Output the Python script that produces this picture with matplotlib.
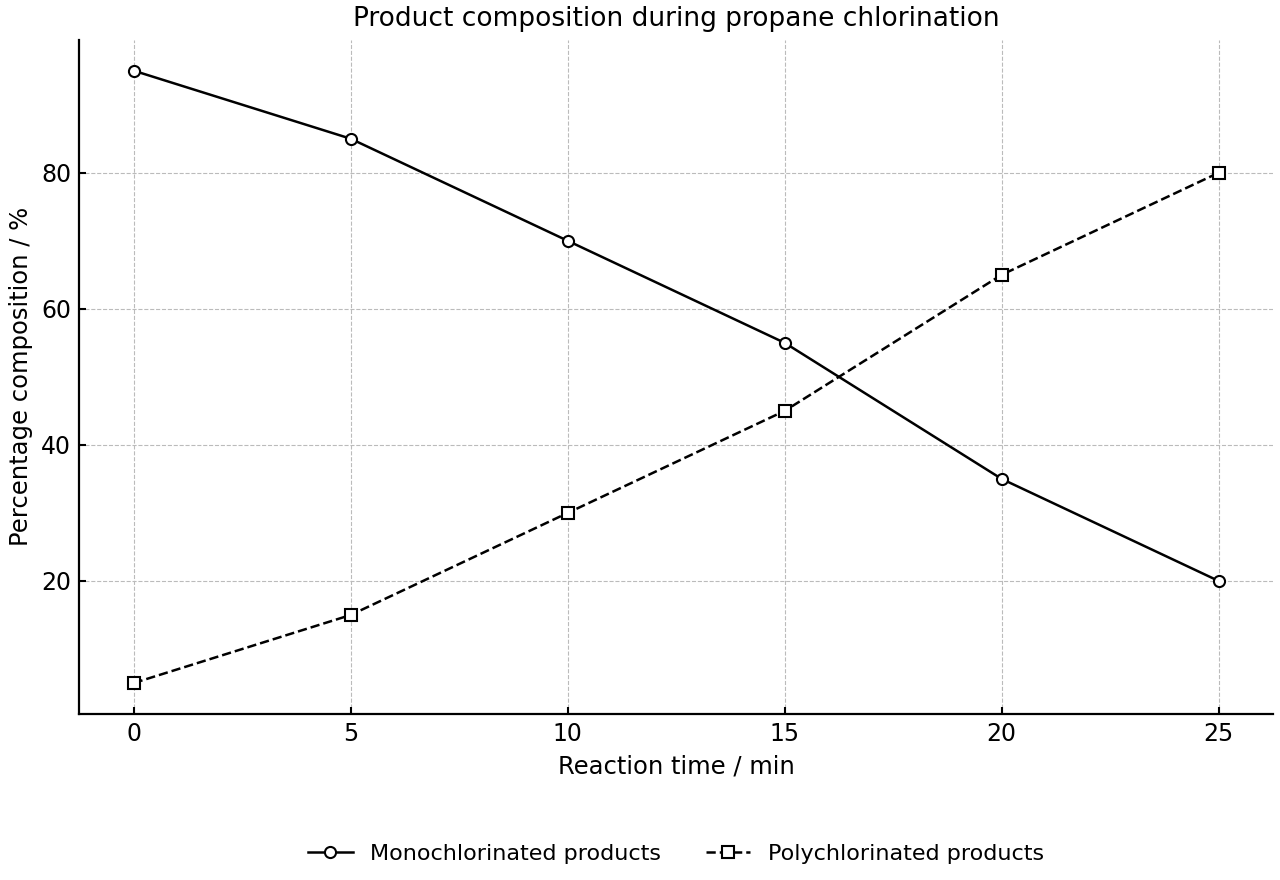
import numpy as np
import matplotlib.pyplot as plt

# reaction time (min) and composition (%)
time_min = [0, 5, 10, 15, 20, 25]
mono = [95, 85, 70, 55, 35, 20]
poly = [5, 15, 30, 45, 65, 80]

fig, ax = plt.subplots(figsize=(12.8, 8.8), dpi=100)
fig.subplots_adjust(left=0.062, right=0.9945, top=0.9545, bottom=0.189)

ax.plot(time_min, mono, color="k", linestyle="-", linewidth=1.8, marker="o",
        markersize=8, markerfacecolor="w", markeredgecolor="k", markeredgewidth=1.5,
        label="Monochlorinated products")
ax.plot(time_min, poly, color="k", linestyle="--", linewidth=1.8, marker="s",
        markersize=8, markerfacecolor="w", markeredgecolor="k", markeredgewidth=1.5,
        label="Polychlorinated products")

ax.set_xticks(time_min)
ax.set_yticks([20, 40, 60, 80])
ax.tick_params(direction="in", labelsize=17, length=5, width=1.5, pad=6)
ax.grid(True, linestyle="--", color="#bbbbbb", linewidth=0.8)
ax.set_axisbelow(True)

for s in ["top", "right"]:
    ax.spines[s].set_visible(False)
for s in ["left", "bottom"]:
    ax.spines[s].set_linewidth(1.6)

ax.set_xlabel("Reaction time / min", fontsize=17.5, labelpad=6)
ax.set_ylabel("Percentage composition / %", fontsize=17.5, labelpad=6)
ax.set_title("Product composition during propane chlorination", fontsize=19, pad=10)

ax.legend(loc="center", bbox_to_anchor=(0.5, -0.208), ncol=2, frameon=False,
          fontsize=16, columnspacing=2)

fig.savefig("out.png", dpi=100)
